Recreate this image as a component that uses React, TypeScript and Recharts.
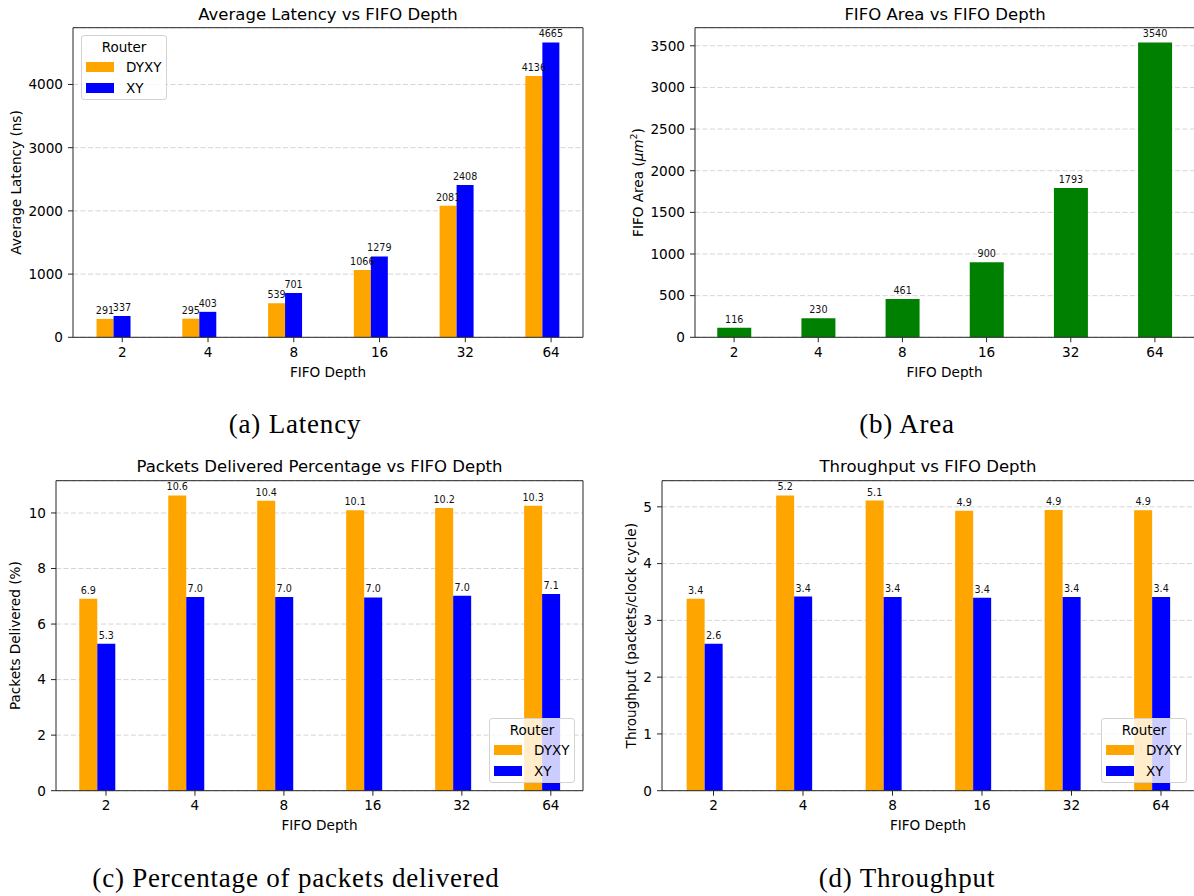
import React from 'react';
import { BarChart, Bar, XAxis, YAxis, CartesianGrid, LabelList, Legend, Label } from 'recharts';

// ---------- data ----------
const depths = ['2', '4', '8', '16', '32', '64'];
const latencyDYXY = [291, 295, 539, 1066, 2081, 4136];
const latencyXY = [337, 403, 701, 1279, 2408, 4665];
const fifoArea = [116, 230, 461, 900, 1793, 3540];
const deliveredDYXY = [6.91, 10.63, 10.44, 10.1, 10.18, 10.26];
const deliveredXY = [5.29, 6.97, 6.97, 6.96, 7.02, 7.08];
const throughputDYXY = [3.38, 5.2, 5.11, 4.93, 4.945, 4.94];
const throughputXY = [2.59, 3.42, 3.41, 3.4, 3.41, 3.41];

const latencyTicks = [0, 1000, 2000, 3000, 4000];
const areaTicks = [0, 500, 1000, 1500, 2000, 2500, 3000, 3500];
const deliveredTicks = [0, 2, 4, 6, 8, 10];
const throughputTicks = [0, 1, 2, 3, 4, 5];

const latencyData = depths.map((d, i) => ({ depth: d, dyxy: latencyDYXY[i], xy: latencyXY[i] }));
const areaData = depths.map((d, i) => ({ depth: d, area: fifoArea[i] }));
const deliveredData = depths.map((d, i) => ({ depth: d, dyxy: deliveredDYXY[i], xy: deliveredXY[i] }));
const throughputData = depths.map((d, i) => ({ depth: d, dyxy: throughputDYXY[i], xy: throughputXY[i] }));

// ---------- style ----------
const FONT = '"DejaVu Sans", sans-serif';
const SERIF = '"Liberation Serif", "DejaVu Serif", serif';
const AXIS = '#262626';
const ORANGE = '#FFA500';
const BLUE = '#0000FF';
const GREEN = '#008000';
const TICK_FS = 13.6;
const TICK_SIZE = 5;
const TICK_MARGIN = 5;
const Y_AXIS_W = 60;
const X_AXIS_H = 45;

type Cfg = {
  left: number; top: number; width: number; height: number;
  plotL: number; plotR: number; plotT: number; plotB: number;
  pad: [number, number]; ylabelX: number;
};

type Series = { key: string; name: string; color: string };

const legendContent = (props: any) => {
  const payload = (props.payload || []).filter((p: any) => p.type !== 'none');
  return (
    <div
      style={{
        width: 86, height: 65, boxSizing: 'border-box', border: '1px solid #d3d3d3', borderRadius: 3,
        background: 'rgba(255,255,255,0.8)', fontFamily: FONT, fontSize: 13.5, color: '#000', position: 'relative',
      }}
    >
      <div style={{ position: 'absolute', left: 0, width: 84, top: 3, textAlign: 'center', lineHeight: '16px' }}>Router</div>
      {payload.map((p: any, i: number) => (
        <div key={i} style={{ position: 'absolute', left: 4, top: 25 + i * 21, height: 12, display: 'flex', alignItems: 'center' }}>
          <div style={{ width: 28, height: 10, background: p.color }} />
          <div style={{ marginLeft: 12, lineHeight: '12px' }}>{p.value}</div>
        </div>
      ))}
    </div>
  );
};

function Panel(props: {
  cfg: Cfg; data: any[]; series: Series[]; yTicks: number[]; yLabel: React.ReactNode;
  legendPos?: { left: number; top: number }; fmt: (v: any) => string; rightSpine: boolean;
}) {
  const { cfg, data, series, yTicks, yLabel, legendPos, fmt, rightSpine } = props;
  const margin = {
    left: cfg.plotL - Y_AXIS_W,
    right: cfg.width - cfg.plotR - (rightSpine ? 1 : 0),
    top: cfg.plotT - 1,
    bottom: cfg.height - cfg.plotB - X_AXIS_H,
  };
  const band = (cfg.plotR - cfg.plotL - cfg.pad[0] - cfg.pad[1]) / depths.length;
  const shift = series.length > 1 ? band * 0.1 : 0;
  const cx = (cfg.plotL + cfg.plotR) / 2;
  const cy = (cfg.plotT + cfg.plotB) / 2;

  const tickRenderer = (p: any) => {
    const { x, y, payload } = p;
    const axisY = y - TICK_SIZE - TICK_MARGIN;
    return (
      <g>
        <line x1={x + shift} x2={x + shift} y1={axisY} y2={axisY + TICK_SIZE} stroke={AXIS} strokeWidth={1} />
        <text x={x + shift} y={y} dy="0.71em" textAnchor="middle" fontSize={TICK_FS} fontFamily={FONT} fill="#000">
          {payload.value}
        </text>
      </g>
    );
  };

  const xLabel = () => (
    <text x={cx} y={cfg.plotB + 39.5} textAnchor="middle" fontSize={TICK_FS} fontFamily={FONT} fill="#000">
      FIFO Depth
    </text>
  );
  const yLabelRender = () => (
    <text
      x={cfg.ylabelX} y={cy} transform={`rotate(-90, ${cfg.ylabelX}, ${cy})`} textAnchor="middle"
      dominantBaseline="central" fontSize={TICK_FS} fontFamily={FONT} fill="#000"
    >
      {yLabel}
    </text>
  );

  const axisLine = { stroke: AXIS, strokeWidth: 1 };

  return (
    <div style={{ position: 'absolute', left: cfg.left, top: cfg.top, width: cfg.width, height: cfg.height }}>
      <BarChart width={cfg.width} height={cfg.height} data={data} margin={margin} barGap={0} barCategoryGap="30%">
        <CartesianGrid vertical={false} stroke="#d6d6d6" strokeDasharray="5 2.5" />
        <XAxis
          dataKey="depth" interval={0} height={X_AXIS_H} tickSize={TICK_SIZE} tickMargin={TICK_MARGIN}
          padding={{ left: cfg.pad[0], right: cfg.pad[1] }} axisLine={axisLine}
          tickLine={false} tick={tickRenderer}
        >
          <Label content={xLabel} />
        </XAxis>
        <XAxis
          xAxisId="lbl" dataKey="depth" hide padding={{ left: cfg.pad[0], right: cfg.pad[1] }}
        />
        <XAxis xAxisId="top" orientation="top" dataKey="depth" height={1} tick={false} tickLine={false} axisLine={axisLine} />
        <YAxis
          width={Y_AXIS_W} domain={[0, (m: number) => m * 1.05]} ticks={yTicks} tickSize={TICK_SIZE} tickMargin={TICK_MARGIN}
          axisLine={axisLine} tickLine={{ stroke: AXIS }}
          tick={{ fontSize: TICK_FS, fill: '#000', fontFamily: FONT }}
        >
          <Label content={yLabelRender} />
        </YAxis>
        {rightSpine && (
          <YAxis yAxisId="right" orientation="right" width={1} tick={false} tickLine={false} axisLine={axisLine} />
        )}
        {series.map((s) => (
          <Bar key={s.key} dataKey={s.key} name={s.name} fill={s.color} isAnimationActive={false} />
        ))}
        {series.map((s) => (
          <Bar
            key={s.key + '-lbl'} xAxisId="lbl" dataKey={s.key} fill="none" legendType="none"
            isAnimationActive={false}
          >
            <LabelList
              dataKey={s.key} position="top" offset={5} formatter={fmt}
              fontSize={9.6} fill="#111" fontFamily={FONT}
            />
          </Bar>
        ))}
        {legendPos && (
          <Legend
            layout="vertical" align="center" verticalAlign="middle" content={legendContent}
            wrapperStyle={{ left: legendPos.left, top: legendPos.top, width: 86, height: 65 }}
          />
        )}
      </BarChart>
    </div>
  );
}

const twoSeries: Series[] = [
  { key: 'dyxy', name: 'DYXY', color: ORANGE },
  { key: 'xy', name: 'XY', color: BLUE },
];

const cfgA: Cfg = { left: 0, top: 0, width: 600, height: 400, plotL: 73, plotR: 583, plotT: 27.7, plotB: 337.3, pad: [-2.2, -2.4], ylabelX: 16 };
const cfgB: Cfg = { left: 600, top: 0, width: 594, height: 400, plotL: 95, plotR: 594, plotT: 27.7, plotB: 337.3, pad: [-3, -3], ylabelX: 38 };
const cfgC: Cfg = { left: 0, top: 450, width: 600, height: 400, plotL: 56, plotR: 583, plotT: 30.7, plotB: 340.7, pad: [-3.4, -3.4], ylabelX: 15 };
const cfgD: Cfg = { left: 600, top: 450, width: 594, height: 400, plotL: 62, plotR: 594, plotT: 30.7, plotB: 340.7, pad: [-2.2, -2.8], ylabelX: 31 };

const intFmt = (v: any) => String(Math.round(Number(v)));
const oneFmt = (v: any) => Number(v).toFixed(1);

const titles = [
  { text: 'Average Latency vs FIFO Depth', x: 328, y: 19.5 },
  { text: 'FIFO Area vs FIFO Depth', x: 945, y: 19.5 },
  { text: 'Packets Delivered Percentage vs FIFO Depth', x: 319.5, y: 471.5 },
  { text: 'Throughput vs FIFO Depth', x: 928, y: 471.5 },
];
const captions = [
  { text: '(a) Latency', x: 295, y: 433 },
  { text: '(b) Area', x: 907, y: 433 },
  { text: '(c) Percentage of packets delivered', x: 296, y: 887 },
  { text: '(d) Throughput', x: 907, y: 887 },
];

export default function App() {
  return (
    <div style={{ position: 'absolute', left: 0, top: 0, width: 1194, height: 896, background: '#fff', overflow: 'hidden' }}>
      <Panel cfg={cfgA} data={latencyData} series={twoSeries} yTicks={latencyTicks} yLabel="Average Latency (ns)"
        legendPos={{ left: 81, top: 35 }} fmt={intFmt} rightSpine />
      <Panel cfg={cfgB} data={areaData} series={[{ key: 'area', name: 'Area', color: GREEN }]} yTicks={areaTicks}
        yLabel={[
          <tspan key="a">FIFO Area (</tspan>,
          <tspan key="b" fontStyle="italic">μm</tspan>,
          <tspan key="c" dy={-5} fontSize={9.5}>2</tspan>,
          <tspan key="d" dy={5}>)</tspan>,
        ]}
        fmt={intFmt} rightSpine={false} />
      <Panel cfg={cfgC} data={deliveredData} series={twoSeries} yTicks={deliveredTicks} yLabel="Packets Delivered (%)"
        legendPos={{ left: 489, top: 268 }} fmt={oneFmt} rightSpine />
      <Panel cfg={cfgD} data={throughputData} series={twoSeries} yTicks={throughputTicks} yLabel="Throughput (packets/clock cycle)"
        legendPos={{ left: 501, top: 268 }} fmt={oneFmt} rightSpine={false} />
      <svg width={1194} height={896} style={{ position: 'absolute', left: 0, top: 0, pointerEvents: 'none' }}>
        {titles.map((t) => (
          <text key={t.text} x={t.x} y={t.y} textAnchor="middle" fontSize={16.5} fontFamily={FONT} fill="#000">{t.text}</text>
        ))}
        {captions.map((c) => (
          <text key={c.text} x={c.x} y={c.y} textAnchor="middle" fontSize={27} letterSpacing={0.8} fontFamily={SERIF} fill="#000">{c.text}</text>
        ))}
      </svg>
    </div>
  );
}
